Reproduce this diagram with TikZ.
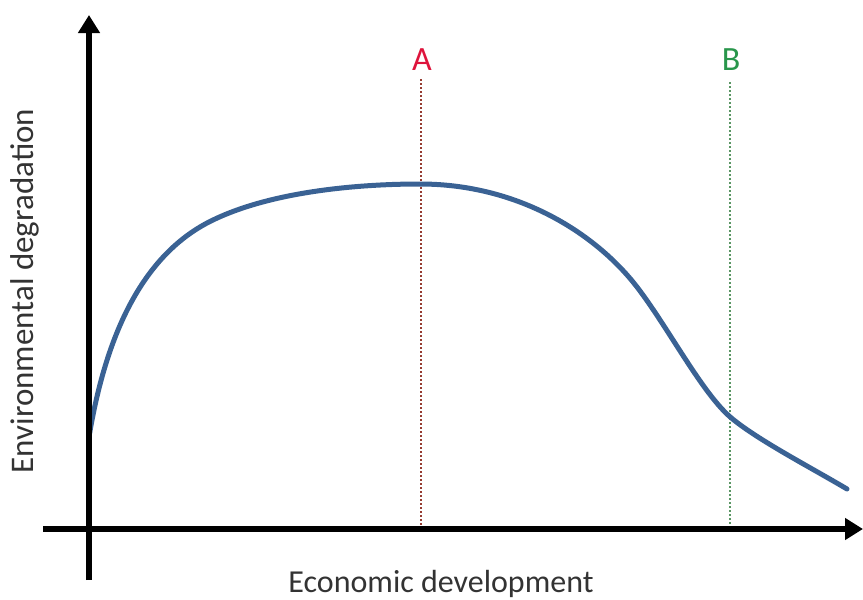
\documentclass[tikz,border=0pt]{standalone}
\usepackage{fontspec}
\setmainfont{Carlito}
\usetikzlibrary{arrows.meta}
\definecolor{curveblue}{RGB}{58,98,148}
\definecolor{lblred}{RGB}{222,20,60}
\definecolor{lblgreen}{RGB}{40,150,75}
\definecolor{linered}{RGB}{150,60,50}
\definecolor{linegreen}{RGB}{90,150,100}
\begin{document}
\begin{tikzpicture}[x=1pt,y=-1pt,
  axis/.style={line width=6pt,-{Triangle[width=21pt,length=18pt]}},
  curve/.style={line width=5pt,curveblue,line cap=round},
  guide/.style={line width=1.2pt,dash pattern=on 2pt off 2pt},
  axlabel/.style={text=black!80,inner sep=0pt},
  letter/.style={font=\fontsize{34}{40}\selectfont,inner sep=0pt}]
\useasboundingbox (0,0) rectangle (863,600);
\coordinate (ybot) at (89,580);
\coordinate (ytop) at (89,15);
\coordinate (xleft) at (43,529);
\coordinate (xright) at (863,529);
\coordinate (atop) at (421,79);
\coordinate (abot) at (421,529);
\coordinate (btop) at (730,82);
\coordinate (bbot) at (730,529);
\draw[guide,linered] (atop) -- (abot);
\draw[guide,linegreen] (btop) -- (bbot);
\draw[curve] (89,437) .. controls (105,340) and (140,255) .. (213,220)
  .. controls (273,191) and (360,184) .. (420,184)
  .. controls (520,184) and (597,235) .. (637,287)
  .. controls (667,326) and (700,389) .. (728,415)
  .. controls (752,437) and (810,467) .. (847,489);
\draw[axis] (ybot) -- (ytop);
\draw[axis] (xleft) -- (xright);
\node[letter,text=lblred,anchor=base] (lblA) at (422,70) {A};
\node[letter,text=lblgreen,anchor=base] (lblB) at (731,70) {B};
\node[axlabel,font=\fontsize{32}{38}\selectfont,anchor=base] (xlab) at (441,592) {Economic development};
\node[axlabel,font=\fontsize{33}{38}\selectfont,rotate=90,anchor=base] (ylab) at (34,291) {Environmental degradation};
\end{tikzpicture}
\end{document}
